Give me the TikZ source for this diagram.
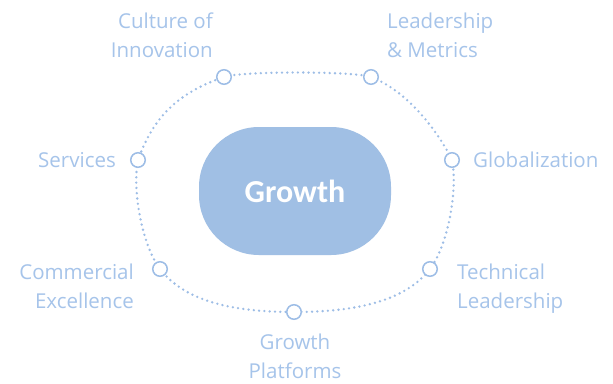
\documentclass[tikz,border=0pt]{standalone}
\usepackage{fontspec}
\setmainfont{Open Sans}
\newfontfamily\growthfont{Carlito}
\usepackage{tikz}
\definecolor{ringblue}{HTML}{9DBDE6}
\definecolor{labelblue}{HTML}{A6C4EA}
\definecolor{coreblue}{HTML}{A0BFE4}
\tikzset{
  hub/.style={shape=circle, draw=ringblue, fill=white, line width=1.5bp, minimum size=14.5bp, inner sep=0pt},
  ringlabel/.style={text=labelblue, inner sep=0pt, font=\fontsize{20.5bp}{29bp}\selectfont},
  ring/.style={draw=ringblue, line width=2.6bp, line cap=round, dash pattern=on 0bp off 5.3bp}
}
\begin{document}
\begin{tikzpicture}[x=1bp,y=-1bp]
\useasboundingbox[fill=white] (0,0) rectangle (613,383);

\coordinate (c1) at (224,77);
\coordinate (c2) at (371,77);
\coordinate (c3) at (452,160);
\coordinate (c4) at (430,269);
\coordinate (c5) at (294,312);
\coordinate (c6) at (160,269);
\coordinate (c7) at (138,160);

\draw[ring] (c1) .. controls (240,71) and (355,71) .. (c2)
  .. controls (408,91) and (439,133) .. (c3)
  .. controls (458,190) and (448,245) .. (c4)
  .. controls (406,300) and (359,312) .. (c5)
  .. controls (229,312) and (184,300) .. (c6)
  .. controls (142,245) and (132,190) .. (c7)
  .. controls (153,118) and (177,93) .. (c1);

\node[shape=rectangle, rounded corners=60bp, fill=coreblue, minimum width=192bp, minimum height=128bp, text=white, font=\growthfont\bfseries\fontsize{32bp}{36bp}\selectfont] (growth) at (295,191) {Growth};

\node[hub] (culture) at (c1) {};
\node[hub] (leadership) at (c2) {};
\node[hub] (globalization) at (c3) {};
\node[hub] (technical) at (c4) {};
\node[hub] (platforms) at (c5) {};
\node[hub] (commercial) at (c6) {};
\node[hub] (services) at (c7) {};

\node[ringlabel, align=right, anchor=base east] (culturetext) at (213,57) {Culture of\\Innovation};
\node[ringlabel, align=left, anchor=base west] (leadershiptext) at (387,57) {Leadership\\\& Metrics};
\node[ringlabel, anchor=base west] (globalizationtext) at (473,167) {Globalization};
\node[ringlabel, align=left, anchor=base west] (technicaltext) at (457,308) {Technical\\Leadership};
\node[ringlabel, align=center, anchor=base] (platformstext) at (295,378) {Growth\\Platforms};
\node[ringlabel, align=right, anchor=base east] (commercialtext) at (134,308) {Commercial\\Excellence};
\node[ringlabel, anchor=base east] (servicestext) at (116,167) {Services};
\end{tikzpicture}
\end{document}
